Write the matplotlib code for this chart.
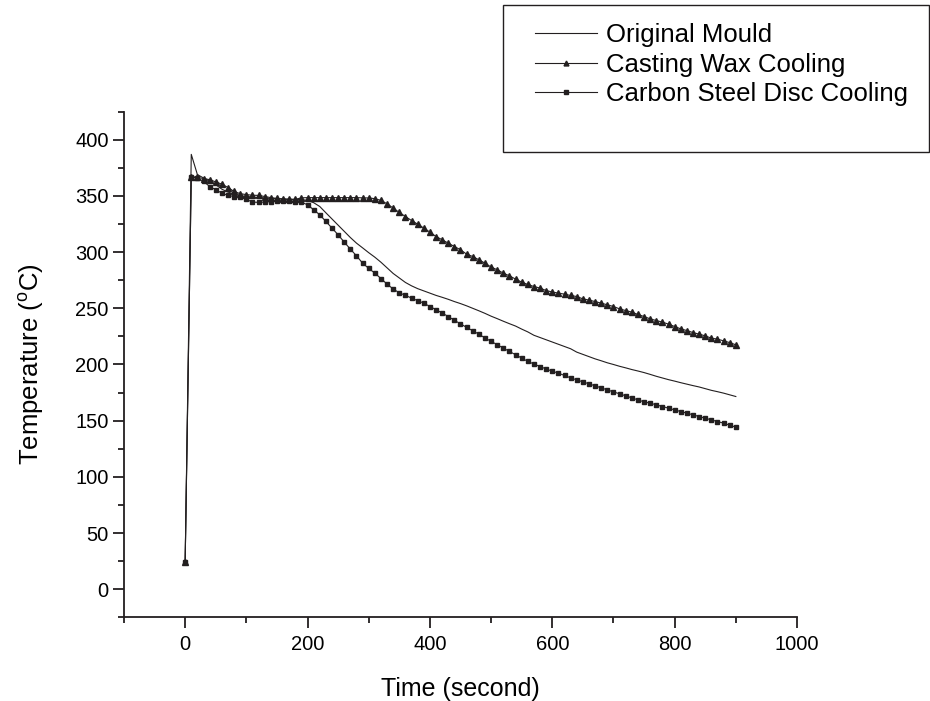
import numpy as np
import matplotlib
matplotlib.use("Agg")
from matplotlib import pyplot as plt
from matplotlib.patches import Rectangle

plt.rcParams['font.family'] = ['Liberation Sans', 'DejaVu Sans']
plt.rcParams['mathtext.fontset'] = 'custom'
plt.rcParams['mathtext.rm'] = 'Liberation Sans'

# %% dados (leitura do grafico, passo de 10 s)
tempo = np.arange(0, 901, 10)

original_mould = [24, 387, 369, 366, 363, 360, 356, 353.5, 351.5, 350,
                  349.5, 349, 348.5, 348, 347.8, 347.5, 347.3, 347, 346.8, 346.7,
                  346, 344, 340.6, 335, 329.5, 324, 318.5, 313, 308, 303.8,
                  299.5, 295.5, 291, 286, 281, 277, 273, 270, 267.5, 265.5,
                  263.5, 261.5, 259.8, 258, 256, 254.2, 252.2, 250, 247.8, 245.5,
                  243, 240.8, 238.5, 236.3, 234.2, 231.5, 229, 226, 224, 222,
                  220, 218, 216, 214, 211, 209, 207, 205, 203.3, 201.5,
                  200, 198.4, 197, 195.5, 194.2, 192.8, 191.2, 189.5, 188, 186.5,
                  185.2, 183.8, 182.5, 181.2, 180, 178.5, 177, 175.8, 174.5, 173,
                  171.5]

casting_wax = [24, 367.3, 366.5, 365.5, 364.5, 362.5, 360.5, 357.5, 354, 352,
               351.2, 350.6, 350.5, 349.5, 348.5, 347.8, 347.3, 347, 347, 348.3,
               348.5, 348.5, 348.5, 348.5, 348.5, 348.5, 348.5, 348.5, 348.5, 348.3,
               348.2, 347.6, 346, 343, 339.2, 335.3, 331.7, 328.1, 324.9, 321.4,
               317.8, 313.9, 311, 308, 305, 302.1, 298.2, 296.1, 293.2, 290.2,
               286.7, 284.3, 281.3, 278.9, 276, 273.3, 271.2, 269.4, 268, 265.8,
               264.5, 263.5, 262.6, 261.4, 260.5, 258.4, 257.3, 256, 254.6, 253.1,
               251.6, 249.5, 248, 246.6, 244.5, 242.7, 240.6, 239.1, 237.7, 235.9,
               233.8, 231.7, 230.2, 228.4, 227, 225.5, 223.4, 222.6, 221, 219.5,
               217.5]

carbon_steel = [24, 367, 366, 363, 358.4, 355.5, 352.5, 350.5, 349.5, 349,
                347, 344.5, 344.3, 344.5, 345, 345.5, 345.5, 345.5, 345, 344.5,
                342.1, 337.7, 333.2, 327.3, 321.4, 315.4, 308.9, 302.7, 296.7, 290.2,
                285.5, 281.3, 276.5, 271.5, 267.2, 263.8, 261.5, 259.1, 256.8, 254.6,
                251.6, 248.8, 245.8, 242.7, 239.3, 236.2, 233, 230, 227, 223.6,
                220.6, 217.6, 214.6, 211.6, 208.7, 205.7, 202.8, 200.4, 198.2, 196,
                194, 192.3, 190.2, 188.1, 186.3, 184.5, 182.8, 181, 179.2, 177.4,
                175.6, 173.9, 172.1, 170.3, 168.5, 166.7, 165.6, 164.1, 162.6, 161.1,
                159.6, 158.1, 156.7, 155.2, 153.7, 152.2, 150.7, 149.2, 147.8, 146,
                144.2]

rotulos = ['Original Mould', 'Casting Wax Cooling', 'Carbon Steel Disc Cooling']
cor = '#231f20'

# %% grafico
fig = plt.figure(figsize=(9.3, 7.01), dpi=100)
ax = fig.add_axes([0.1333, 0.1194, 0.7237, 0.7213])

l1, = ax.plot(tempo, original_mould, color=cor, lw=0.8)
l2, = ax.plot(tempo, casting_wax, color=cor, lw=0.8, marker='^', ms=4.4,
              mec=cor, mfc=cor)
l3, = ax.plot(tempo, carbon_steel, color=cor, lw=0.8, marker='s', ms=3.3,
              mec=cor, mfc=cor)

ax.set_xlim(-100, 1000)
ax.set_ylim(-25, 425)
ax.set_xticks([0, 200, 400, 600, 800, 1000])
ax.set_xticks(np.arange(-100, 1001, 100), minor=True)
ax.set_yticks(np.arange(0, 401, 50))
ax.set_yticks(np.arange(-25, 426, 25), minor=True)

for lado in ['top', 'right']:
    ax.spines[lado].set_visible(False)
for lado in ['left', 'bottom']:
    ax.spines[lado].set_linewidth(1.3)
    ax.spines[lado].set_color(cor)

ax.tick_params(which='major', direction='out', length=8, width=1.3,
               color=cor, labelsize=14.5, pad=3)
ax.tick_params(which='minor', direction='out', length=4.5, width=1.3, color=cor)
ax.tick_params(axis='x', which='major', pad=5)

ax.set_xlabel('Time (second)', fontsize=18, labelpad=16)
ax.set_ylabel(r'Temperature ($^{\mathrm{o}}$C)', fontsize=18.5, labelpad=21)

# caixa da legenda
fig.patches.append(Rectangle((503 / 930, 1 - 152 / 701), 426 / 930, 147 / 701,
                             transform=fig.transFigure, fill=False,
                             edgecolor=cor, lw=1.0))
fig.legend([l1, l2, l3], rotulos, loc='upper left',
           bbox_to_anchor=(535 / 930, 1 - 23 / 701), frameon=False,
           fontsize=18.5, handlelength=2.4, handletextpad=0.35,
           labelspacing=0.22, borderpad=0, borderaxespad=0,
           numpoints=1, markerscale=0.8)

fig.savefig('out.png', dpi=100)
